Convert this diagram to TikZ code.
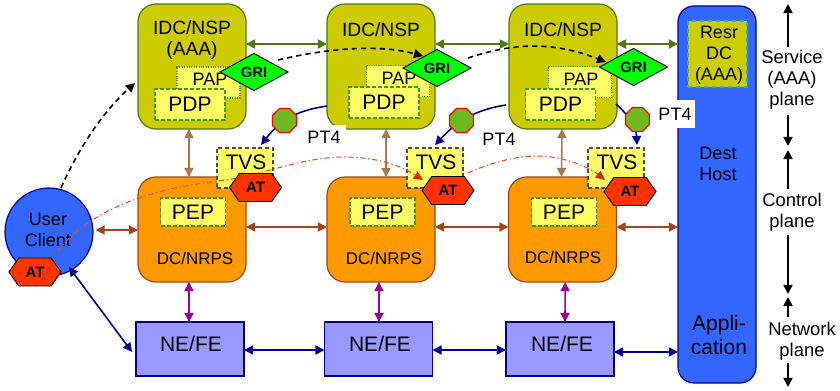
\documentclass[tikz,border=0pt]{standalone}
\usepackage{fontspec}
\setmainfont{Liberation Sans}
\usetikzlibrary{arrows.meta,shapes.geometric,shapes.symbols}
\definecolor{olv}{HTML}{CCCC00}
\definecolor{olvb}{HTML}{4D7A10}
\definecolor{org}{HTML}{FF9900}
\definecolor{orgb}{HTML}{A0461A}
\definecolor{yel}{HTML}{FFFF66}
\definecolor{grn}{HTML}{3C9A1E}
\definecolor{lil}{HTML}{9999FF}
\definecolor{nav}{HTML}{000090}
\definecolor{blu}{HTML}{3366FF}
\definecolor{tan}{HTML}{A87B4F}
\definecolor{pur}{HTML}{990099}
\definecolor{gri}{HTML}{00FF00}
\definecolor{atr}{HTML}{FF3300}
\definecolor{pol}{HTML}{70B820}
\definecolor{rdd}{HTML}{E8501A}
\definecolor{rdt}{HTML}{CC3300}
\tikzset{
  sized/.style 2 args={minimum width=#1*0.75pt,minimum height=#2*0.75pt,inner sep=0pt,outer sep=0pt},
  fa/.style={font=\fontsize{13.5}{15.75}\selectfont,align=center,inner sep=0pt},
  fb/.style={font=\fontsize{14.4}{15.75}\selectfont,align=center,inner sep=0pt},
  fc/.style={font=\fontsize{15.75}{17}\selectfont,align=center,inner sep=0pt},
  fd/.style={font=\fontsize{12.7}{15}\selectfont,align=center,inner sep=0pt},
  idc/.style={draw=olvb,fill=olv,line width=0.9pt,rounded corners=13.5pt,sized={108}{125}},
  pep/.style={draw=orgb,fill=org,line width=0.9pt,rounded corners=13.5pt,sized={108}{105}},
  nefe/.style={draw=nav,fill=lil,line width=0.9pt,sized={108}{54}},
  host/.style={draw=nav,fill=blu,line width=0.9pt,rounded corners=12pt,sized={78}{377}},
  client/.style={circle,draw=nav,fill=blu,line width=0.9pt,sized={88}{88}},
  resr/.style={draw=cyan!70!olive,fill=olv,dashed,line width=0.8pt,sized={59}{66}},
  papbox/.style={draw=grn,fill=yel,densely dotted,line width=0.8pt,sized={63}{31}},
  dash green/.style={draw=grn,fill=yel,dash pattern=on 3pt off 1.5pt,line width=0.8pt},
  pdpbox/.style={dash green,sized={70}{31}},
  pepin/.style={dash green,sized={65}{28}},
  tvs/.style={draw=black!70,fill=yel,dash pattern=on 3pt off 2pt,line width=0.8pt,sized={56}{40}},
  grid/.style={diamond,draw=black,fill=gri,line width=0.7pt,sized={68}{37},font=\fontsize{11.1}{12}\selectfont\bfseries},
  athex/.style={signal,signal to=east and west,signal pointer angle=110,draw=black,fill=atr,line width=0.7pt,sized={52}{28},font=\fontsize{11.25}{12}\selectfont\bfseries},
  oct/.style={regular polygon,regular polygon sides=8,draw=red,fill=pol,line width=0.9pt,minimum size=26*0.75pt,inner sep=0pt,outer sep=0pt},
  tri/.style={-{Triangle[length=6.8pt,width=6.8pt]}},
  ditri/.style={{Triangle[length=6.8pt,width=6.8pt]}-{Triangle[length=6.8pt,width=6.8pt]}},
  gline/.style={ditri,draw=olvb,line width=1.2pt},
  bline/.style={ditri,draw=orgb,line width=1.2pt},
  tline/.style={ditri,draw=tan,line width=1.2pt},
  pline/.style={ditri,draw=pur,line width=1.2pt},
  nline/.style={ditri,draw=nav,line width=1.2pt},
  nsingle/.style={tri,draw=nav,line width=1.2pt},
  dline/.style={tri,draw=black,line width=1.2pt,dash pattern=on 4pt off 3pt},
  rline/.style={-{Triangle[length=7pt,width=6.5pt,color=rdt]},draw=rdd,line width=0.8pt,dash pattern=on 4pt off 2pt on 1pt off 2pt},
  planeline/.style={tri,draw=black,line width=1.2pt},
}
\begin{document}
\begin{tikzpicture}[x=0.75pt,y=-0.75pt]
\useasboundingbox (0,0) rectangle (840,390);
\coordinate (rowG) at (0,44);
\coordinate (rowB) at (0,227);
\coordinate (rowC) at (0,230);
\coordinate (rowN) at (0,350);
\coordinate (rowM) at (0,352);

% service boxes
\node[idc] (idc1) at (192,66.5) {};
\node[idc] (idc2) at (381,66.5) {};
\node[idc] (idc3) at (563,66.5) {};
\node[fb] (idc1t) at (192,40.5) {IDC/NSP\\(AAA)};
\node[fb] (idc2t) at (381,30) {IDC/NSP};
\node[fb] (idc3t) at (563,30) {IDC/NSP};
\node[papbox] (pap1) at (208.5,82.5) {};
\node[papbox] (pap2) at (398,81) {};
\node[papbox] (pap3) at (580,82) {};
\node[fa] (pap1t) at (210,79) {PAP};
\node[fa] (pap2t) at (399,78) {PAP};
\node[fa] (pap3t) at (581,79) {PAP};
\node[pdpbox,font=\fontsize{15.75}{17}\selectfont] (pdp1) at (190,104.5) {PDP};
\node[pdpbox,font=\fontsize{15.75}{17}\selectfont] (pdp2) at (384,102.5) {PDP};
\node[pdpbox,font=\fontsize{15.75}{17}\selectfont] (pdp3) at (560.5,104.5) {PDP};

% destination host
\node[host] (host) at (717,194.5) {};
\node[resr] (resr) at (717.5,54) {};
\node[fa] (resrt) at (719,55) {Resr\\DC\\(AAA)};
\node[fa] (hostt) at (718,164) {Dest\\Host};
\node[fc,font=\fontsize{15.75}{18}\selectfont] (appt) at (719,335) {Appli-\\cation};

% control boxes
\node[pep] (pep1) at (192,229.5) {};
\node[pep] (pep2) at (381,229.5) {};
\node[pep] (pep3) at (562.5,229.5) {};
\node[pepin,font=\fontsize{15.75}{17}\selectfont] (pepi1) at (193,212) {PEP};
\node[pepin,font=\fontsize{15.75}{17}\selectfont] (pepi2) at (382.5,212) {PEP};
\node[pepin,font=\fontsize{15.75}{17}\selectfont] (pepi3) at (564,212) {PEP};
\node[fd] (dc1) at (195,258) {DC/NRPS};
\node[fd] (dc2) at (384,258) {DC/NRPS};
\node[fd] (dc3) at (563,257) {DC/NRPS};

% network boxes
\node[nefe] (ne1) at (190,349) {};
\node[nefe] (ne2) at (378.5,349) {};
\node[nefe] (ne3) at (560,349) {};
\node[fc] (ne1t) at (191,344) {NE/FE};
\node[fc] (ne2t) at (380,344) {NE/FE};
\node[fc] (ne3t) at (562,344) {NE/FE};

% client
\node[client] (client) at (49,232) {};
\node[fa] (clientt) at (48,229.5) {User\\Client};

% TVS
\node[tvs] (tvs1) at (245,168) {};
\node[tvs] (tvs2) at (435,168) {};
\node[tvs] (tvs3) at (616,168) {};
\node[fc] (tvs1t) at (246,162) {TVS};
\node[fc] (tvs2t) at (436,162) {TVS};
\node[fc] (tvs3t) at (617,162) {TVS};

% horizontal and vertical links
\draw[gline] (idc1.east |- rowG) -- (idc2.west |- rowG);
\draw[gline] (idc2.east |- rowG) -- (idc3.west |- rowG);
\draw[gline] (idc3.east |- rowG) -- (host.west |- rowG);
\draw[tline] ([xshift=-2.25pt]idc1.south) -- ([xshift=-2.25pt]pep1.north);
\draw[tline] ([xshift=3.75pt]idc2.south) -- ([xshift=3.75pt]pep2.north);
\draw[tline] ([xshift=-0.75pt]idc3.south) -- ([xshift=-0.75pt]pep3.north);
\draw[bline] ([xshift=2pt]client.east |- rowC) -- (pep1.west |- rowC);
\draw[bline] (pep1.east |- rowB) -- (pep2.west |- rowB);
\draw[bline] (pep2.east |- rowB) -- (pep3.west |- rowB);
\draw[bline] (pep3.east |- rowB) -- (host.west |- rowB);
\draw[pline] ([xshift=-2.25pt]pep1.south) -- ([xshift=-0.75pt]ne1.north);
\draw[pline] ([xshift=-1.5pt]pep2.south) -- ([xshift=0.4pt]ne2.north);
\draw[pline] ([xshift=2pt]pep3.south) -- ([xshift=3.75pt]ne3.north);
\draw[nline] (ne1.east |- rowN) -- (ne2.west |- rowN);
\draw[nline] (ne2.east |- rowN) -- (ne3.west |- rowN);
\draw[nline] (ne3.east |- rowM) -- (host.west |- rowM);
\coordinate (cnav) at (69,267);
\coordinate (nnav) at (132,352);
\draw[nline] (cnav) -- (nnav);

% policy links
\coordinate (p1s) at (327,106);
\coordinate (p1e) at (261,145);
\coordinate (p2s) at (506,105);
\coordinate (p2e) at (435,145);
\coordinate (p3s) at (616,104);
\coordinate (p3e) at (637,145);
\draw[nsingle] (p1s) .. controls (300,110) and (282,118) .. (p1e);
\draw[nsingle] (p2s) .. controls (480,109) and (460,118) .. (p2e);
\draw[nsingle] (p3s) .. controls (628,115) and (636,125) .. (p3e);
\node[oct] (oc1) at (284.5,120.5) {};
\node[oct] (oc2) at (461.5,120.5) {};
\node[oct] (oc3) at (637.5,119.5) {};

% signalling
\coordinate (d0s) at (61,188);
\coordinate (d0e) at (135,83);
\coordinate (d1s) at (278,60);
\coordinate (d1e) at (423,56);
\coordinate (d2s) at (468,58);
\coordinate (d2e) at (606,62);
\draw[dline] (d0s) .. controls (80,145) and (105,110) .. (d0e);
\draw[dline] (d1s) .. controls (320,50) and (375,43) .. (d1e);
\draw[dline] (d2s) .. controls (510,44) and (550,40) .. (d2e);
\node[grid] (gri1) at (254,72) {GRI};
\node[grid] (gri2) at (437,68) {GRI};
\node[grid] (gri3) at (633.5,67) {GRI};

% token path
\coordinate (r1s) at (58,251);
\coordinate (r1e) at (423,180);
\coordinate (r2s) at (468,173);
\coordinate (r2e) at (605,180);
\draw[rline] (r1s) .. controls (85,215) and (140,190) .. (218,181)
  .. controls (262,176) and (300,157) .. (345,157)
  .. controls (375,157) and (400,165) .. (r1e);
\draw[rline] (r2s) .. controls (490,163) and (515,156) .. (537,156)
  .. controls (565,156) and (590,168) .. (r2e);
\node[athex] (at1) at (255.5,187.5) {AT};
\node[athex] (at2) at (448,190.5) {AT};
\node[athex] (at3) at (630,191.5) {AT};
\node[athex] (at0) at (35,272) {AT};

% PT4 labels
\node[fill=white,sized={44}{25},font=\fontsize{13.5}{15}\selectfont] (pt1) at (324,137.5) {PT4};
\node[sized={40}{25},font=\fontsize{13.5}{15}\selectfont] (pt2) at (499,139) {PT4};
\node[fill=white,sized={39}{28},font=\fontsize{13.5}{15}\selectfont] (pt3) at (675,114) {PT4};

% plane scale
\node[fa,font=\fontsize{13.8}{15.75}\selectfont] (svc) at (792,80) {Service\\(AAA)\\plane};
\node[fa,font=\fontsize{13.8}{15.75}\selectfont] (ctl) at (792,212.5) {Control\\plane};
\node[fa,font=\fontsize{13.8}{15.75}\selectfont] (net) at (802,341.5) {Network\\plane};
\coordinate (a1s) at (788,47);
\coordinate (a1e) at (788,4);
\coordinate (a2s) at (788,115);
\coordinate (a2e) at (788,146);
\coordinate (a3s) at (788,189);
\coordinate (a3e) at (788,150);
\coordinate (a4s) at (788,235);
\coordinate (a4e) at (788,294);
\coordinate (a5s) at (788,317);
\coordinate (a5e) at (788,297);
\coordinate (a6s) at (788,363);
\coordinate (a6e) at (788,387);
\draw[planeline] (a1s) -- (a1e);
\draw[planeline] (a2s) -- (a2e);
\draw[planeline] (a3s) -- (a3e);
\draw[planeline] (a4s) -- (a4e);
\draw[planeline] (a5s) -- (a5e);
\draw[planeline] (a6s) -- (a6e);
\end{tikzpicture}
\end{document}
